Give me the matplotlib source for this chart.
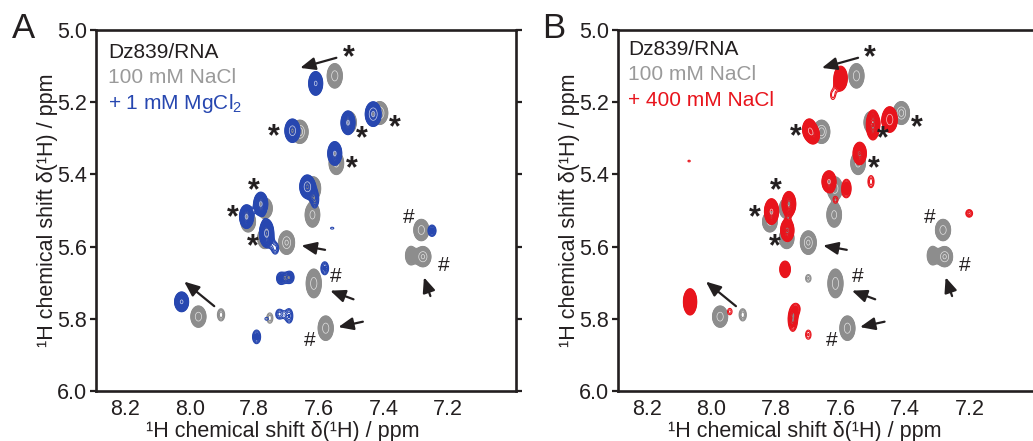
import numpy as np
import matplotlib
matplotlib.use("Agg")
import matplotlib.pyplot as plt

plt.rcParams['font.family'] = ['Liberation Sans', 'DejaVu Sans']
plt.rcParams['mathtext.fontset'] = 'custom'
plt.rcParams['mathtext.rm'] = 'Liberation Sans'
plt.rcParams['mathtext.default'] = 'regular'

# ---------------- data (ppm) ----------------
# reference spectrum: 100 mM NaCl (grey), same in both panels
grey_x = [7.551, 7.659, 7.412, 7.506, 7.546, 7.618, 7.620, 7.819, 7.767, 7.767,
          7.700, 7.283, 7.278, 7.315, 7.616, 7.973, 7.903, 7.752, 7.579, 7.700]
grey_y = [5.127, 5.282, 5.230, 5.256, 5.369, 5.439, 5.512, 5.531, 5.494, 5.577,
          5.589, 5.554, 5.628, 5.625, 5.702, 5.794, 5.789, 5.798, 5.826, 5.688]
grey_int = [8, 12, 11, 6, 7, 8, 7, 7, 7, 7,
            10, 8, 10, 3, 8, 8, 1.6, 1.4, 8, 1.3]
grey_asp = [1.15, 1.0, 1.0, 1.1, 1.1, 1.1, 1.2, 1.0, 1.0, 1.0,
            1.05, 1.0, 0.9, 1.2, 1.35, 1.0, 1.2, 1.2, 1.15, 1.0]

# + 1 mM MgCl2 (blue, panel A)
blue_x = [7.610, 7.682, 7.432, 7.510, 7.551, 7.636, 7.613, 7.824, 7.780, 7.762,
          7.735, 7.250, 7.582, 7.718, 7.690, 8.025, 7.793, 7.723, 7.692, 7.559, 7.762]
blue_y = [5.148, 5.279, 5.233, 5.257, 5.342, 5.434, 5.468, 5.517, 5.482, 5.563,
          5.605, 5.556, 5.660, 5.688, 5.685, 5.753, 5.850, 5.787, 5.792, 5.549, 5.800]
blue_int = [6, 8, 10, 6, 6, 8, 1.8, 6, 6, 6.5,
            1.5, 1.8, 1.7, 1.9, 1.9, 6, 1.8, 1.5, 1.6, 1.1, 1.1]
blue_asp = [1.2, 1.1, 1.1, 1.2, 1.2, 1.1, 1.6, 1.2, 1.2, 1.4,
            1.2, 1.0, 1.2, 1.0, 1.0, 1.0, 1.2, 1.0, 1.4, 0.4, 0.6]

# + 400 mM NaCl (red, panel B)
red_x = [7.600, 7.624, 7.697, 7.684, 7.500, 7.448, 7.541, 7.506, 7.636, 7.582,
         7.616, 7.814, 7.760, 7.765, 7.772, 8.066, 7.943, 7.748, 7.734, 7.700,
         7.202, 8.069]
red_y = [5.134, 5.180, 5.275, 5.292, 5.263, 5.248, 5.342, 5.420, 5.420, 5.439,
         5.471, 5.503, 5.482, 5.555, 5.663, 5.753, 5.780, 5.802, 5.771, 5.844,
         5.508, 5.363]
red_int = [5, 1.2, 5, 3.5, 5, 8, 5, 1.4, 6, 2.2,
           1.2, 6, 5.5, 5, 2.8, 5, 1.2, 2.2, 1.1, 1.3,
           1.5, 1.05]
red_asp = [1.3, 1.4, 1.1, 1.0, 1.6, 1.2, 1.2, 1.4, 1.1, 1.4,
           1.0, 1.3, 1.3, 1.2, 1.1, 1.4, 1.0, 1.8, 1.0, 1.2,
           0.8, 0.5]

# annotations (ppm)
star_x = [7.509, 7.739, 7.468, 7.364, 7.498, 7.800, 7.866, 7.805]
star_y = [5.077, 5.298, 5.302, 5.272, 5.386, 5.446, 5.522, 5.603]
hash_x = [7.323, 7.215, 7.548, 7.629]
hash_y = [5.519, 5.651, 5.682, 5.860]
arrow_tail_x = [7.546, 7.581, 7.493, 7.464, 7.255, 7.924]
arrow_tail_y = [5.077, 5.609, 5.746, 5.808, 5.737, 5.765]
arrow_head_x = [7.658, 7.654, 7.565, 7.540, 7.275, 8.017]
arrow_head_y = [5.105, 5.597, 5.722, 5.823, 5.685, 5.697]

x_ticks = [8.2, 8.0, 7.8, 7.6, 7.4, 7.2]
y_ticks = [5.0, 5.2, 5.4, 5.6, 5.8, 6.0]
xlim = (8.29, 6.99)
ylim = (6.0, 5.0)

GREY = '#8d8d8d'
BLUE = '#2747b0'
RED = '#e8141c'
DARK = '#231f20'

# ---------------- drawing ----------------
gx = np.linspace(6.99, 8.29, 1300)
gy = np.linspace(5.0, 6.0, 1000)
GX, GY = np.meshgrid(gx, gy)
SX, SY = 0.0115, 0.0145


def spectrum(xs, ys, ints, asps):
    Z = np.zeros_like(GX)
    for x0, y0, a, r in zip(xs, ys, ints, asps):
        Z += a * np.exp(-((GX - x0) ** 2 / (2 * SX ** 2) +
                          (GY - y0) ** 2 / (2 * (SY * r) ** 2)))
    return Z


def draw_peaks(ax, Z, color):
    lev = 1.0 * 1.13 ** np.arange(0, 22)
    ax.contour(GX, GY, Z, levels=lev, colors=color, linewidths=0.8)
    ax.contourf(GX, GY, Z, levels=[1.6, 1e9], colors=color)
    ax.contour(GX, GY, Z, levels=[5.6, 9.0], colors='white',
               linewidths=0.5, alpha=0.75)


fig = plt.figure(figsize=(10.33, 4.41), dpi=100)
W, H = 1033, 441
axA = fig.add_axes([96 / W, 50 / H, 420 / W, 361 / H])
axB = fig.add_axes([617.7 / W, 50 / H, 420 / W, 361 / H])

Zg = spectrum(grey_x, grey_y, grey_int, grey_asp)
panels = [
    (axA, spectrum(blue_x, blue_y, blue_int, blue_asp), BLUE,
     '+ 1 mM MgCl$_2$', 0.922, 0.028),
    (axB, spectrum(red_x, red_y, red_int, red_asp), RED,
     '+ 400 mM NaCl', 0.93, 0.025),
]

for ax, Zc, col, lab, ytop, xleft in panels:
    draw_peaks(ax, Zg, GREY)
    draw_peaks(ax, Zc, col)
    ax.set_xlim(*xlim)
    ax.set_ylim(*ylim)
    ax.set_xticks(x_ticks)
    ax.set_yticks(y_ticks)
    ax.set_xticklabels([f'{v:.1f}' for v in x_ticks])
    ax.set_yticklabels([f'{v:.1f}' for v in y_ticks])
    ax.tick_params(axis='x', length=0, pad=6, labelsize=15.5, colors=DARK)
    ax.tick_params(axis='y', direction='out', length=4.5, width=1.6,
                   right=True, pad=2, labelsize=15.5, colors=DARK)
    for s in ax.spines.values():
        s.set_linewidth(1.9)
        s.set_color(DARK)
    ax.set_xlabel('¹H chemical shift δ(¹H) / ppm', fontsize=15.5, color=DARK)
    ax.set_ylabel('¹H chemical shift δ(¹H) / ppm', fontsize=15.5, color=DARK)
    ax.xaxis.set_label_coords(0.445, -0.082)
    ax.yaxis.set_label_coords(-0.09, 0.5)

    ax.text(xleft, ytop, 'Dz839/RNA', transform=ax.transAxes, fontsize=15,
            color=DARK, va='baseline')
    ax.text(xleft, ytop - 0.069, '100 mM NaCl', transform=ax.transAxes,
            fontsize=15, color='#9a9a9a', va='baseline')
    ax.text(xleft, ytop - 0.14, lab, transform=ax.transAxes, fontsize=15,
            color=col, va='baseline')

    for x0, y0 in zip(star_x, star_y):
        ax.text(x0, y0, '*', fontsize=22, ha='center', va='center',
                color=DARK, fontweight='bold')
    for x0, y0 in zip(hash_x, hash_y):
        ax.text(x0, y0, '#', fontsize=15, ha='center', va='center',
                color=DARK)
    for xt, yt, xh, yh in zip(arrow_tail_x, arrow_tail_y,
                              arrow_head_x, arrow_head_y):
        ax.annotate('', xy=(xh, yh), xytext=(xt, yt),
                    arrowprops=dict(arrowstyle='-|>,head_length=0.9,head_width=0.38',
                                    mutation_scale=10, color=DARK, lw=1.6,
                                    shrinkA=0, shrinkB=0))

fig.text(12 / W, 1 - 38 / H, 'A', fontsize=25, color=DARK, va='baseline')
fig.text(542 / W, 1 - 38 / H, 'B', fontsize=25, color=DARK, va='baseline')

fig.savefig('out.png', dpi=100)
